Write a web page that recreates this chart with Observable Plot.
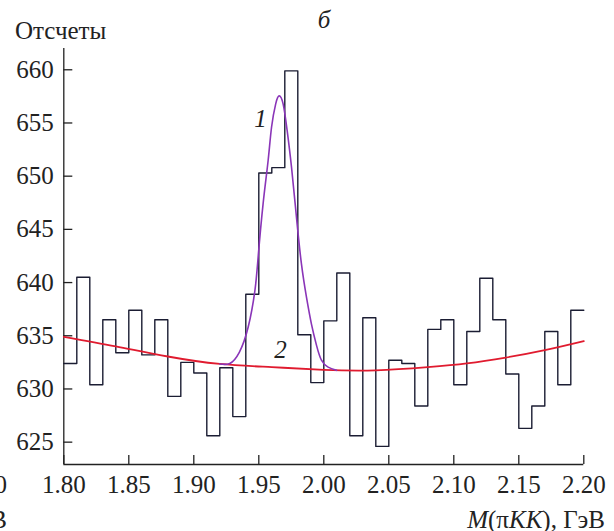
<!DOCTYPE html>
<html><head><meta charset="utf-8">
<script src="https://cdn.jsdelivr.net/npm/d3@7"></script>
<script src="https://cdn.jsdelivr.net/npm/@observablehq/plot@0.6"></script>
<style>
body{margin:0;background:#fff}
#chart svg{display:block}
</style>
</head><body><div id="chart"></div>
<script>
// histogram bin edges (GeV) and counts per bin
const binEdges = [1.80,1.81,1.82,1.83,1.84,1.85,1.86,1.87,1.88,1.89,1.90,1.91,1.92,1.93,1.94,1.95,1.96,1.97,1.98,1.99,2.00,2.01,2.02,2.03,2.04,2.05,2.06,2.07,2.08,2.09,2.10,2.11,2.12,2.13,2.14,2.15,2.16,2.17,2.18,2.19,2.20];
const counts = [632.4,640.5,630.4,636.5,633.4,637.4,633.2,636.5,629.3,632.5,631.5,625.6,632.0,627.4,638.9,650.3,650.8,659.9,635.1,630.6,636.4,640.9,625.6,636.7,624.6,632.7,632.4,628.4,635.6,636.5,630.4,635.4,640.4,636.5,631.4,626.3,628.4,635.4,630.4,637.4];

// fitted background (curve 2)
const bgX = [1.80,1.84,1.88,1.92,1.96,2.00,2.04,2.08,2.11,2.14,2.17,2.20];
const bgY = [634.9,634.0,633.05,632.35,632.05,631.8,631.75,632.05,632.4,632.95,633.65,634.5];

// fitted signal + background (curve 1)
const sigX = [1.920,1.9277,1.935,1.9418,1.947,1.9495,1.9533,1.9572,1.9598,1.963,1.9656,1.9687,1.9718,1.9752,1.979,1.9828,1.9867,1.9905,1.9944,1.9982,2.0033,2.0098];
const sigY = [632.35,632.4,633.45,635.8,639.25,642.4,647.4,651.5,654.6,656.8,657.55,656.8,654.3,650.8,646.1,641.75,638.6,636.1,634.1,632.7,632.05,631.75];

const xTicks = [1.80,1.85,1.90,1.95,2.00,2.05,2.10,2.15,2.20];
const yTicks = [625,630,635,640,645,650,655,660];
const curveLabels = [{x:1.9513, y:655.4, t:"1"},{x:1.9667, y:633.7, t:"2"}];

const hist = binEdges.map((x,i)=>({x, y: counts[Math.min(i, counts.length-1)]}));
const bg = bgX.map((x,i)=>({x, y:bgY[i]}));
const sig = sigX.map((x,i)=>({x, y:sigY[i]}));

const yMin = 622.9, yMax = 662;
const ink = "#222";
const serif = '"Liberation Serif", serif';

const plot = Plot.plot({
  width: 614, height: 531,
  marginLeft: 63.3, marginRight: 30.7, marginTop: 48, marginBottom: 67,
  style: {fontFamily: serif, fontSize: "25px", color: ink},
  x: {domain: [1.8, 2.2]},
  y: {domain: [yMin, yMax]},
  marks: [
    Plot.ruleX([1.8], {stroke: ink, strokeWidth: 1.3}),
    Plot.ruleY([yMin], {stroke: ink, strokeWidth: 1.3}),
    Plot.ruleX(xTicks, {x: d => d, y1: yMin, y2: yMin, insetTop: -9, stroke: ink, strokeWidth: 1.3}),
    Plot.ruleY(yTicks, {y: d => d, x1: 1.8, x2: 1.8, insetRight: -9, stroke: ink, strokeWidth: 1.3}),
    Plot.axisX({ticks: xTicks, tickSize: 0, tickPadding: 11, tickFormat: d3.format(".2f"), label: null}),
    Plot.axisY({ticks: yTicks, tickSize: 0, tickPadding: 10, label: null}),
    Plot.line(hist, {x: "x", y: "y", curve: "step-after", stroke: "#1b1d33", strokeWidth: 1.4}),
    Plot.line(bg, {x: "x", y: "y", curve: "natural", stroke: "#e01b2f", strokeWidth: 1.8}),
    Plot.line(sig, {x: "x", y: "y", curve: "natural", stroke: "#8a35b8", strokeWidth: 1.6}),
    Plot.text(curveLabels, {x: "x", y: "y", text: "t", fontStyle: "italic", fontSize: 25, fill: ink})
  ]
});

const svg = d3.select(plot).style("overflow", "visible");
const addText = (x, y, txt, anchor, italic) => svg.append("text")
  .attr("x", x).attr("y", y).attr("text-anchor", anchor)
  .attr("fill", ink).attr("font-size", 25)
  .attr("font-style", italic ? "italic" : null)
  .text(txt);
addText(15, 39, "Отсчеты", "start", false);
addText(324, 28, "б", "middle", true);
addText(7, 493, "2.20", "end", false);
addText(7, 528, "ГэВ", "end", false);
const xl = svg.append("text").attr("x", 605).attr("y", 528).attr("text-anchor", "end").attr("fill", ink).attr("font-size", 25);
xl.append("tspan").attr("font-style", "italic").text("M");
xl.append("tspan").text("(π");
xl.append("tspan").attr("font-style", "italic").text("KK");
xl.append("tspan").text("), ГэВ");

document.getElementById("chart").appendChild(plot);
</script>
</body></html>
